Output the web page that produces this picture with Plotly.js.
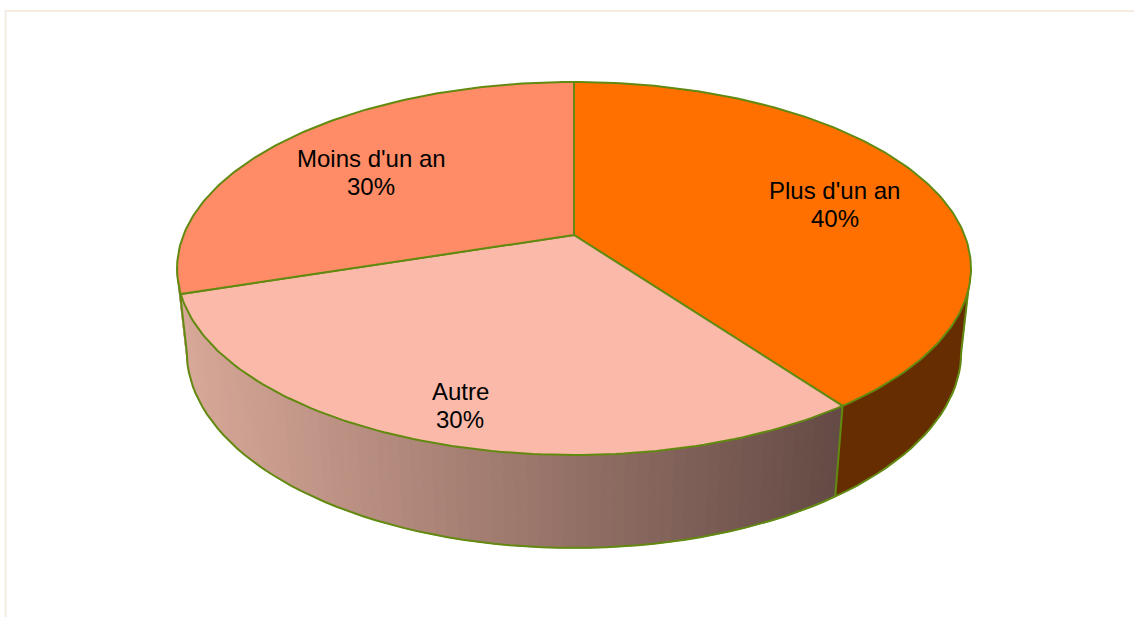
<!DOCTYPE html>
<html>
<head>
<meta charset="utf-8">
<script src="https://cdn.plot.ly/plotly-3.0.1.min.js"></script>
<style>html,body{margin:0;padding:0;background:#fff}</style>
</head>
<body>
<div id="chart" style="width:1134px;height:617px"></div>
<script>
// Data, clockwise from 12 o'clock
const categories = ["Plus d'un an", "Autre", "Moins d'un an"];
const values = [40, 30, 30];

// Styles
const topColors = ["#FF7000", "#FBB9A9", "#FF8C66"];
const outline = "#628A10";
const darkWall = "#662E00";
const wallLeft = [216, 168, 152], wallRight = [100, 74, 68];

// Perspective camera of the disc
const cx = 574, cy = 235, scaleX = 390.5, scaleY = 180.5, persp = 0.1796;
const wallDrop = 83.8, wallDepth = 0.024;
// Label placement in disc coordinates
const labelRadius = [0.71, 0.847, 0.664];
const labelShift = [4, -0.9, -2.5];
const lineGap = 14;

function project(deg, r, drop, depth) {
  const t = deg * Math.PI / 180, X = r * Math.sin(t), Y = -r * Math.cos(t);
  const d = 1 - persp * Y + depth;
  return [cx + scaleX * X / d, cy + (scaleY * Y + drop) / d];
}
function topPt(deg, r) { return project(deg, r === undefined ? 1 : r, 0, 0); }
function botPt(deg) { return project(deg, 1, wallDrop, wallDepth); }
function range(a, b, step) {
  const out = [];
  const n = Math.max(1, Math.ceil((b - a) / step));
  for (let i = 0; i <= n; i++) out.push(a + (b - a) * i / n);
  return out;
}

const total = values.reduce((s, v) => s + v, 0);
let acc = 0;
const spans = values.map(v => { const a = acc; acc += v / total * 360; return [a, acc]; });

const traces = [];
function poly(pts, fill, lineColor, width, closed) {
  const xs = pts.map(p => p[0]), ys = pts.map(p => p[1]);
  if (closed) { xs.push(xs[0]); ys.push(ys[0]); }
  traces.push({
    type: "scatter", mode: "lines", x: xs, y: ys,
    fill: fill ? "toself" : "none", fillcolor: fill || undefined,
    line: { color: lineColor, width: width }, hoverinfo: "skip", showlegend: false
  });
}

// Visible wall limits: the silhouette tangents of the disc
const rightTangent = 100, leftTangent = 260;

// Wall of first slice (flat dark)
{
  const ang = range(rightTangent, spans[0][1], 2);
  poly(ang.map(a => topPt(a)).concat(ang.slice().reverse().map(a => botPt(a))), darkWall, darkWall, 1, true);
}
// Wall of second slice (gradient following screen x) plus sliver of the third
{
  const ang = range(spans[1][0], leftTangent, 1.5);
  const xLo = botPt(spans[1][1])[0], xHi = botPt(spans[1][0])[0];
  for (let i = ang.length - 2; i >= 0; i--) {
    const a = ang[i], b = ang[i + 1];
    const f = Math.min(1, Math.max(0, (botPt((a + b) / 2)[0] - xLo) / (xHi - xLo)));
    const c = wallLeft.map((v, k) => Math.round(v + (wallRight[k] - v) * f));
    const col = `rgb(${c[0]},${c[1]},${c[2]})`;
    poly([topPt(a), topPt(b), botPt(b), botPt(a)], col, col, 1, true);
  }
}
// Wall outlines: bottom rim, silhouettes, and the edge at the slice boundary
poly(range(rightTangent, leftTangent, 2).map(a => botPt(a)), null, outline, 2, false);
poly([topPt(rightTangent), botPt(rightTangent)], null, outline, 2, false);
poly([topPt(leftTangent), botPt(leftTangent)], null, outline, 2, false);
poly([topPt(spans[0][1]), botPt(spans[0][1])], null, outline, 2, false);

// Top faces
spans.forEach((s, i) => {
  const pts = [[cx, cy]].concat(range(s[0], s[1], 1).map(a => topPt(a)));
  poly(pts, topColors[i], outline, 2, true);
});

// Labels
const annotations = [];
const labelFont = { family: "Liberation Sans, Arial, sans-serif", size: 24, color: "#000" };
spans.forEach((s, i) => {
  const p = topPt((s[0] + s[1]) / 2 + labelShift[i], labelRadius[i]);
  const pct = Math.round(values[i] / total * 100) + "%";
  [[categories[i], -lineGap], [pct, lineGap]].forEach(([txt, dy]) => {
    annotations.push({
      x: p[0], y: p[1] + dy, xref: "x", yref: "y", text: txt, showarrow: false,
      font: labelFont, xanchor: "center", yanchor: "middle"
    });
  });
});

const layout = {
  width: 1134, height: 617,
  margin: { l: 0, r: 0, t: 0, b: 0 },
  paper_bgcolor: "#fff", plot_bgcolor: "#fff",
  showlegend: false, hovermode: false,
  xaxis: { range: [0, 1134], visible: false, fixedrange: true },
  yaxis: { range: [617, 0], visible: false, fixedrange: true },
  annotations: annotations,
  shapes: [
    { type: "path", xref: "paper", yref: "paper",
      path: "M 0.00485 0 L 0.00485 0.982 L 1 0.982",
      line: { color: "#F6EBE1", width: 2 } }
  ]
};
Plotly.newPlot("chart", traces, layout, { displayModeBar: false, staticPlot: true });
</script>
</body>
</html>
